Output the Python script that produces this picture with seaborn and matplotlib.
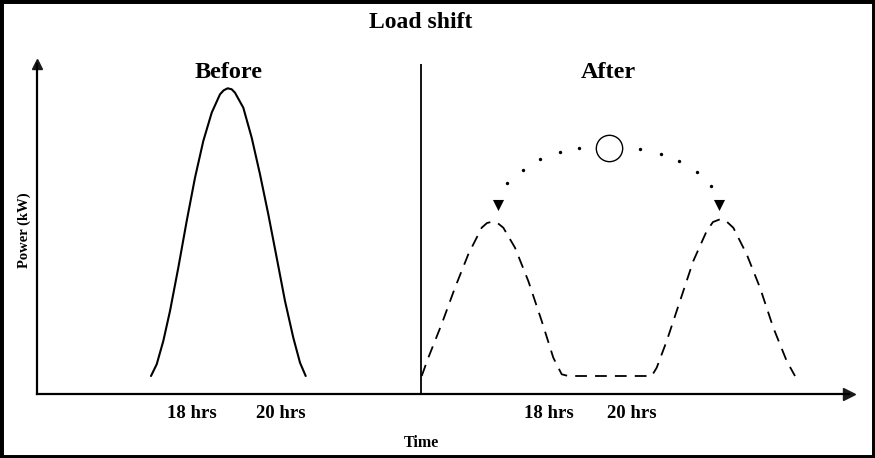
import numpy as np
import pandas as pd
import seaborn as sns
import matplotlib.pyplot as plt
from matplotlib.patches import Rectangle

# Schematic units: time axis runs 0..812, power axis 0..330
before_time = [114, 119.7, 126.3, 133, 141.3, 149.7, 158, 166.3, 174.7, 183, 186.7,
               190.7, 194.7, 198, 206.3, 214.7, 223, 231.3, 239.7, 248, 256.3, 263, 268.7]
before_power = [18, 29.7, 53, 83, 126.3, 173, 216.3, 253, 281.3, 299.7, 303.7,
                305.7, 304.7, 301.3, 286.3, 256.3, 219.7, 179.7, 136.3, 93, 56.3, 31.3, 18]

after_time = [384.7, 391.3, 404.7, 418, 431.3, 444.7, 450, 455.3, 460.5, 466.3, 478,
              491.3, 504.7, 516.3, 524.7, 531.3, 614.7, 619.7, 629.7, 643, 656.3,
              669.7, 676, 683, 689, 696.3, 709.7, 723, 736.3, 749.7, 758]
after_power = [18, 36.3, 70, 106.3, 139.7, 166.3, 171, 172.3, 171, 166.3, 146.3,
               113, 73, 36.3, 19.7, 18, 18, 26.3, 53, 93, 133,
               163, 172, 174.7, 173, 166.3, 139.7, 106.3, 66.3, 33, 18]

# dotted arc showing the shifted load
arc_time = [470.3, 485.7, 503.3, 522.7, 542.3, 603, 623.7, 642.3, 659.7, 673.7]
arc_power = [210.7, 224.3, 234.7, 241.7, 246.3, 245, 240.3, 232.7, 221.7, 207.7]
circle_time = [571.7]
circle_power = [246.3]
arrow_time = [460.7, 682.3]
arrow_power = [189.5, 189.5]

divider_time = 384
tick_pos = [155, 244, 512, 595]
tick_labels = ["18 hrs", "20 hrs", "18 hrs", "20 hrs"]

sns.set_theme(style="white")
plt.rcParams['font.family'] = ['Liberation Serif', 'DejaVu Serif']
plt.rcParams['font.weight'] = 'bold'
plt.rcParams['text.color'] = 'black'
plt.rcParams['axes.labelcolor'] = 'black'
plt.rcParams['xtick.color'] = 'black'

W, H = 875, 458
fig = plt.figure(figsize=(W / 100, H / 100), dpi=100)
ax = fig.add_axes([37 / W, 64 / H, 812 / W, 330 / H])
ax.set_xlim(0, 812)
ax.set_ylim(0, 330)

before_df = pd.DataFrame({"time": before_time, "power": before_power})
after_df = pd.DataFrame({"time": after_time, "power": after_power})

sns.lineplot(data=before_df, x="time", y="power", sort=False, estimator=None,
             color="black", lw=1.5, solid_joinstyle="round", ax=ax)
sns.lineplot(data=after_df, x="time", y="power", sort=False, estimator=None,
             color="black", lw=1.3, linestyle=(0, (6.5, 4.5)), ax=ax)

ax.vlines(divider_time, 0, 330, color="black", lw=1.3)

sns.scatterplot(x=arc_time, y=arc_power, color="black", s=6, edgecolor="black",
                linewidth=0, ax=ax, clip_on=False)
sns.scatterplot(x=circle_time, y=circle_power, marker="o", s=360, facecolor="white",
                edgecolor="black", linewidth=1.0, ax=ax)
sns.scatterplot(x=arrow_time, y=arrow_power, marker="v", s=64, color="black",
                linewidth=0, ax=ax)

# axes with arrow heads
for side in ["top", "right"]:
    ax.spines[side].set_visible(False)
for side in ["left", "bottom"]:
    ax.spines[side].set_linewidth(1.6)
    ax.spines[side].set_color("black")
ax.plot(1, 0, ">k", ms=8.5, transform=ax.get_yaxis_transform(), clip_on=False)
ax.plot(0, 1, "^k", ms=7.5, transform=ax.get_xaxis_transform(), clip_on=False)

ax.set_xticks(tick_pos, tick_labels)
ax.set_yticks([])
ax.tick_params(axis="x", length=0, pad=8, labelsize=13.5, labelcolor="black")
for lab in ax.get_xticklabels():
    lab.set_fontweight("bold")
ax.set_xlabel("")
ax.set_ylabel("")

fig.text(421 / W, 1 - 22 / H, "Load shift", ha="center", va="center",
         fontsize=17, fontweight="bold", color="black")
fig.text(229 / W, 1 - 72 / H, "Before", ha="center", va="center",
         fontsize=17.5, fontweight="bold", color="black")
fig.text(608 / W, 1 - 72 / H, "After", ha="center", va="center",
         fontsize=17.5, fontweight="bold", color="black")
fig.text(421 / W, 1 - 443 / H, "Time", ha="center", va="center",
         fontsize=11.5, fontweight="bold", color="black")
fig.text(24 / W, 1 - 230 / H, "Power (kW)", ha="center", va="center",
         rotation=90, fontsize=10.5, fontweight="bold", color="black")

fig.patches.append(Rectangle((0, 0), 1, 1, transform=fig.transFigure, fill=False,
                             edgecolor="black", lw=5))

fig.savefig("out.png", dpi=100)
